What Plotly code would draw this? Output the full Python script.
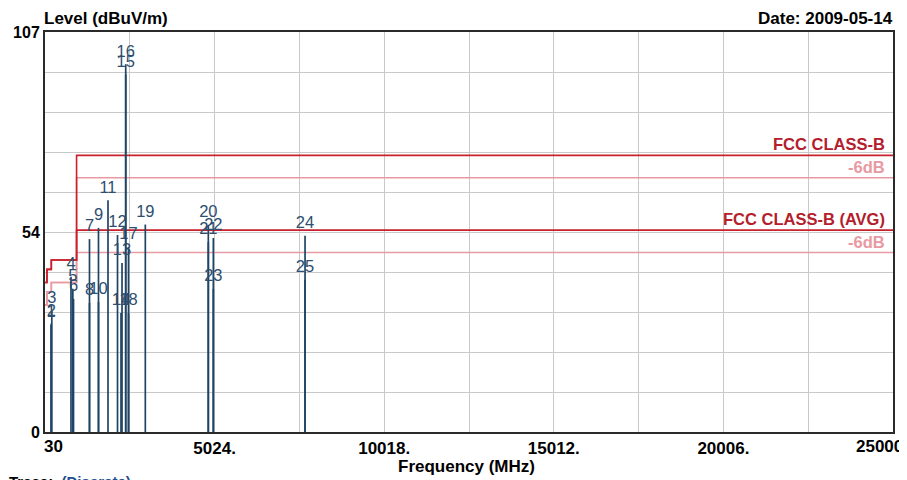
import plotly.graph_objects as go

# ---- data ----
marker_ids = [str(i) for i in range(1, 26)]
marker_freq = [210, 215, 230, 796, 850, 870, 1340, 1340, 1605, 1605,
               1885, 2165, 2298, 2268, 2407, 2407, 2489, 2489, 2984,
               4839, 4839, 4987, 4987, 7687, 7687]
marker_level = [28.6, 29.0, 32.4, 41.5, 38.3, 35.6, 51.6, 34.5, 54.6, 34.8,
                62.0, 52.7, 45.2, 31.8, 95.6, 98.4, 49.5, 31.8, 55.5,
                55.4, 50.8, 51.9, 38.3, 52.5, 40.7]

limit_freq = [30, 88, 216, 960, 25000]
limit_pk = [40, 43.5, 46, 74, 74]
limit_pk_6 = [34, 37.5, 40, 68, 68]
limit_avg = [40, 43.5, 46, 54, 54]
limit_avg_6 = [34, 37.5, 40, 48, 48]

x_tick_vals = [30, 5024, 10018, 15012, 20006, 25000]
x_tick_text = ["30", "5024.", "10018.", "15012.", "20006.", "25000"]
y_label_vals = [0, 54, 107]

FONT = "Liberation Sans, Arial, sans-serif"
DARK_RED = "#c8202c"
LIGHT_RED = "#e89aa2"
BAR = "#1f4566"
LBL = "#2d4e6e"

fig = go.Figure()

# limit lines
for ys, col in [(limit_pk_6, LIGHT_RED), (limit_avg_6, LIGHT_RED),
                (limit_avg, DARK_RED), (limit_pk, DARK_RED)]:
    fig.add_trace(go.Scatter(x=limit_freq, y=ys, mode="lines",
                             line=dict(color=col, width=1.6, shape="hv"),
                             hoverinfo="skip", showlegend=False))

# discrete bars
bx, by = [], []
for f, l in zip(marker_freq, marker_level):
    bx += [f, f, None]
    by += [0, l, None]
fig.add_trace(go.Scatter(x=bx, y=by, mode="lines",
                         line=dict(color=BAR, width=1.7),
                         hoverinfo="skip", showlegend=False))

# marker labels
fig.add_trace(go.Scatter(x=marker_freq, y=marker_level, mode="markers+text",
                         marker=dict(size=4, opacity=0),
                         text=marker_ids, textposition="top center",
                         textfont=dict(family=FONT, size=16.5, color=LBL),
                         hoverinfo="skip", showlegend=False))

# limit labels
for txt, lvl, col in [("<b>FCC CLASS-B</b>", limit_pk[-1], "#b3202c"),
                      ("<b>-6dB</b>", limit_pk_6[-1], LIGHT_RED),
                      ("<b>FCC CLASS-B (AVG)</b>", limit_avg[-1], "#b3202c"),
                      ("<b>-6dB</b>", limit_avg_6[-1], LIGHT_RED)]:
    fig.add_annotation(x=limit_freq[-1], y=lvl, xref="x", yref="y",
                       text=txt, showarrow=False, xanchor="right",
                       yanchor="bottom", xshift=-6, yshift=0,
                       font=dict(family=FONT, size=16.5, color=col))

# x tick labels at the ends (clamped inside)
fig.add_annotation(x=x_tick_vals[0], y=0, xref="x", yref="y",
                   text="<b>%s</b>" % x_tick_text[0], showarrow=False,
                   xanchor="left", yanchor="top", xshift=-3, yshift=-3,
                   font=dict(family=FONT, size=17, color="black"))
fig.add_annotation(x=x_tick_vals[-1], y=0, xref="x", yref="y",
                   text="<b>%s</b>" % x_tick_text[-1], showarrow=False,
                   xanchor="right", yanchor="top", xshift=12, yshift=-3,
                   font=dict(family=FONT, size=17, color="black"))

# titles
fig.add_annotation(x=0, y=1.035, xref="paper", yref="paper",
                   text="<b>Level (dBuV/m)</b>", showarrow=False,
                   xanchor="left", yanchor="middle", xshift=-3,
                   font=dict(family=FONT, size=17, color="black"))
fig.add_annotation(x=1, y=1.035, xref="paper", yref="paper",
                   text="<b>Date: 2009-05-14</b>", showarrow=False,
                   xanchor="right", yanchor="middle", xshift=2,
                   font=dict(family=FONT, size=17, color="black"))
fig.add_annotation(x=0.4976, y=-0.085, xref="paper", yref="paper",
                   text="<b>Frequency (MHz)</b>", showarrow=False,
                   xanchor="center", yanchor="middle",
                   font=dict(family=FONT, size=17, color="black"))
fig.add_annotation(x=-0.045, y=-0.097, xref="paper", yref="paper",
                   text="<b>Trace:</b>  <b><span style='color:#1f4f8f'>(Discrete)</span></b>",
                   showarrow=False, xanchor="left", yanchor="top",
                   font=dict(family=FONT, size=15, color="black"))

# axes
x_grid = [30 + i * (25000 - 30) / 10 for i in range(11)]
x_text = ["" for _ in x_grid]
for v, t in zip(x_tick_vals[1:-1], x_tick_text[1:-1]):
    x_text[x_grid.index(min(x_grid, key=lambda g: abs(g - v)))] = "<b>%s</b>" % t

y_grid = [107 * i / 10 for i in range(11)]
y_text = ["" for _ in y_grid]
y_text[0] = "<b>%d</b>" % y_label_vals[0]
y_text[5] = "<b>%d</b>" % y_label_vals[1]
y_text[10] = "<b>%d</b>" % y_label_vals[2]

fig.update_xaxes(range=[30, 25000], tickmode="array", tickvals=x_grid,
                 ticktext=x_text, showgrid=True, gridcolor="#c9c9c9",
                 gridwidth=1, zeroline=False, showline=True, mirror=True,
                 linecolor="#2a2a2a", linewidth=2, ticks="",
                 automargin=False,
                 tickfont=dict(family=FONT, size=17, color="black"))
fig.update_yaxes(range=[0, 107], tickmode="array", tickvals=y_grid,
                 ticktext=y_text, showgrid=True, gridcolor="#c9c9c9",
                 gridwidth=1, zeroline=False, showline=True, mirror=True,
                 linecolor="#2a2a2a", linewidth=2, ticks="",
                 automargin=False,
                 tickfont=dict(family=FONT, size=16, color="black"))

# page body has an 8px margin: shrink the figure so the plot lands where the reference has it
fig.update_layout(width=899, height=472,
                  margin=dict(l=37, r=14, t=24, b=48),
                  paper_bgcolor="white", plot_bgcolor="white",
                  showlegend=False)

fig.write_html("out.html")
